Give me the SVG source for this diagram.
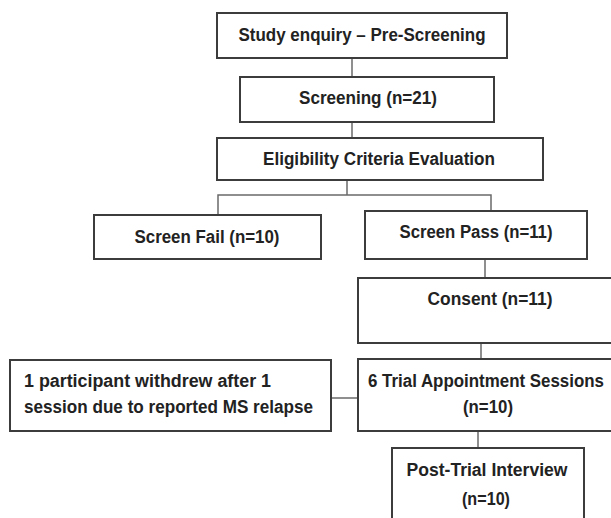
<svg xmlns="http://www.w3.org/2000/svg" width="611" height="518" viewBox="0 0 611 518">
<style>
.box{fill:#fff;stroke:#3c3c3c;stroke-width:2}
.t{font-family:"Liberation Sans",Arial,sans-serif;font-weight:bold;font-size:18px;fill:#222}
.c{text-anchor:middle}
.conn{fill:none;stroke:#6a6a6a;stroke-width:1.5}
</style>
<rect width="611" height="518" fill="#fff"/>
<g id="connectors">
<line class="conn" x1="352" y1="58" x2="352" y2="77"/>
<line class="conn" x1="352" y1="122" x2="352" y2="138"/>
<polyline class="conn" points="218,215 218,195 491,195 491,211"/>
<line class="conn" x1="347" y1="180" x2="347" y2="195"/>
<line class="conn" x1="485" y1="259" x2="485" y2="278"/>
<line class="conn" x1="481" y1="343" x2="481" y2="359"/>
<line class="conn" x1="332" y1="398" x2="358" y2="398"/>
<line class="conn" x1="478" y1="431" x2="478" y2="448"/>
</g>
<g id="n1"><rect class="box" x="217" y="13" width="290" height="45"/><text class="t c" x="362" y="41" textLength="247" lengthAdjust="spacingAndGlyphs">Study enquiry – Pre-Screening</text></g>
<g id="n2"><rect class="box" x="240" y="77" width="254" height="45"/><text class="t c" x="368" y="104" textLength="138" lengthAdjust="spacingAndGlyphs">Screening (n=21)</text></g>
<g id="n3"><rect class="box" x="217" y="138" width="326" height="42"/><text class="t c" x="379" y="165" textLength="232" lengthAdjust="spacingAndGlyphs">Eligibility Criteria Evaluation</text></g>
<g id="n4"><rect class="box" x="94" y="215" width="227" height="44"/><text class="t c" x="207" y="243" textLength="145" lengthAdjust="spacingAndGlyphs">Screen Fail (n=10)</text></g>
<g id="n5"><rect class="box" x="365" y="211" width="222" height="48"/><text class="t c" x="476" y="238" textLength="153" lengthAdjust="spacingAndGlyphs">Screen Pass (n=11)</text></g>
<g id="n6"><rect class="box" x="358" y="278" width="260" height="65"/><text class="t c" x="490" y="305" textLength="125" lengthAdjust="spacingAndGlyphs">Consent (n=11)</text></g>
<g id="n7"><rect class="box" x="10" y="360" width="321" height="71"/><text class="t" x="24" y="387" textLength="247" lengthAdjust="spacingAndGlyphs">1 participant withdrew after 1</text><text class="t" x="24" y="413" textLength="289" lengthAdjust="spacingAndGlyphs">session due to reported MS relapse</text></g>
<g id="n8"><rect class="box" x="358" y="359" width="260" height="72"/><text class="t c" x="486" y="387" textLength="236" lengthAdjust="spacingAndGlyphs">6 Trial Appointment Sessions</text><text class="t c" x="488" y="413" textLength="50" lengthAdjust="spacingAndGlyphs">(n=10)</text></g>
<g id="n9"><rect class="box" x="392" y="448" width="192" height="80"/><text class="t c" x="487" y="476" textLength="161" lengthAdjust="spacingAndGlyphs">Post-Trial Interview</text><text class="t c" x="486" y="505" textLength="48" lengthAdjust="spacingAndGlyphs">(n=10)</text></g>
</svg>
